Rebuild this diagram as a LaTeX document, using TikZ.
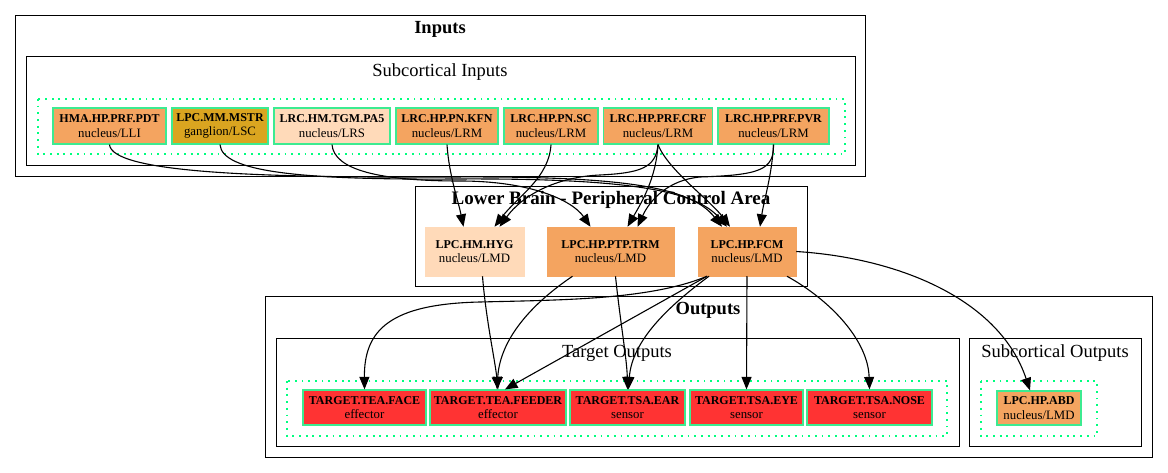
\documentclass[tikz,border=0pt]{standalone}
\usepackage{fontspec}
\setmainfont{Liberation Serif}
\usetikzlibrary{arrows.meta}

\definecolor{sandy}{HTML}{F4A460}
\definecolor{golden}{HTML}{DAA520}
\definecolor{peach}{HTML}{FFDAB9}
\definecolor{targetred}{HTML}{FF3333}
\definecolor{nodeborder}{RGB}{60,235,145}
\definecolor{dotgreen}{HTML}{00FF7F}

\tikzset{
  cluster/.style={draw=black, line width=1pt},
  dotcluster/.style={draw=dotgreen, line width=1.6pt, dash pattern=on 1.8pt off 4.9pt},
  bigtitle/.style={font=\bfseries\fontsize{18.5}{20}\selectfont, inner sep=0pt},
  subtitle/.style={font=\fontsize{18.5}{20}\selectfont, inner sep=0pt},
  nd/.style={draw=nodeborder, line width=1.2pt, fill=#1, inner sep=0pt, align=center,
             font=\fontsize{12.8}{14.6}\selectfont},
  flat/.style={draw=#1, line width=0.5pt, fill=#1, inner sep=0pt, align=center,
             font=\fontsize{12.8}{14.6}\selectfont},
  edge/.style={draw=black, line width=1.1pt, -{Triangle[length=12.5pt,width=10pt]}},
}
\newcommand{\nm}[1]{{\bfseries\fontsize{12}{14.6}\selectfont #1}}

\begin{document}
\begin{tikzpicture}[x=1pt,y=-1pt]
\useasboundingbox (0,0) rectangle (1168,473);

% ---- clusters ----
\draw[cluster] (15,16) rectangle (865,177);
\node[bigtitle] (tin) at (440,29) {Inputs};
\draw[cluster] (26,57) rectangle (855,166);
\node[subtitle] (tsin) at (440,72) {Subcortical Inputs};
\draw[dotcluster] (38,99) rectangle (845,154);

\draw[cluster] (415,187) rectangle (807,287);

\draw[cluster] (265,297) rectangle (1152,457);
\node[bigtitle] (tout) at (708,310) {Outputs};
\draw[cluster] (276,338) rectangle (959,446);
\node[subtitle] (ttgt) at (617,353) {Target Outputs};
\draw[dotcluster] (287,381) rectangle (947,436);
\draw[cluster] (969,338) rectangle (1141,446);
\node[subtitle] (tsout) at (1055,353) {Subcortical Outputs};
\draw[dotcluster] (981,381) rectangle (1097,436);

% ---- input nodes ----
\node[nd=sandy,  minimum width=113pt, minimum height=36pt] (pdt)  at (109.5,126) {\nm{HMA.HP.PRF.PDT}\\nucleus/LLI};
\node[nd=golden, minimum width=96pt,  minimum height=36pt] (mstr) at (220,126)   {\nm{LPC.MM.MSTR}\\ganglion/LSC};
\node[nd=peach,  minimum width=116pt, minimum height=36pt] (pa5)  at (332,126)   {\nm{LRC.HM.TGM.PA5}\\nucleus/LRS};
\node[nd=sandy,  minimum width=102pt, minimum height=36pt] (kfn)  at (447,126)   {\nm{LRC.HP.PN.KFN}\\nucleus/LRM};
\node[nd=sandy,  minimum width=94pt,  minimum height=36pt] (sc)   at (551,126)   {\nm{LRC.HP.PN.SC}\\nucleus/LRM};
\node[nd=sandy,  minimum width=109pt, minimum height=36pt] (crf)  at (658,126)   {\nm{LRC.HP.PRF.CRF}\\nucleus/LRM};
\node[nd=sandy,  minimum width=111pt, minimum height=36pt] (pvr)  at (773.5,126) {\nm{LRC.HP.PRF.PVR}\\nucleus/LRM};

% ---- lower brain nodes ----
\node[flat=peach, minimum width=99pt,  minimum height=49pt] (hyg) at (474.5,251.5) {\nm{LPC.HM.HYG}\\nucleus/LMD};
\node[flat=sandy, minimum width=127pt, minimum height=49pt] (ptp) at (610.5,251.5) {\nm{LPC.HP.PTP.TRM}\\nucleus/LMD};
\node[flat=sandy, minimum width=98pt,  minimum height=49pt] (fcm) at (747,251.5)   {\nm{LPC.HP.FCM}\\nucleus/LMD};

% ---- output nodes ----
\node[nd=targetred, minimum width=123pt, minimum height=35pt] (face)   at (364.5,407.5) {\nm{TARGET.TEA.FACE}\\effector};
\node[nd=targetred, minimum width=136pt, minimum height=35pt] (feeder) at (498,407.5)   {\nm{TARGET.TEA.FEEDER}\\effector};
\node[nd=targetred, minimum width=115pt, minimum height=35pt] (ear)    at (627.5,407.5) {\nm{TARGET.TSA.EAR}\\sensor};
\node[nd=targetred, minimum width=113pt, minimum height=35pt] (eye)    at (746.5,407.5) {\nm{TARGET.TSA.EYE}\\sensor};
\node[nd=targetred, minimum width=125pt, minimum height=35pt] (nose)   at (869.5,407.5) {\nm{TARGET.TSA.NOSE}\\sensor};
\node[nd=sandy,     minimum width=84pt,  minimum height=34pt] (abd)    at (1039,408)    {\nm{LPC.HP.ABD}\\nucleus/LMD};

% ---- lower brain title (edges run over it) ----
\node[bigtitle, font=\bfseries\fontsize{19}{20}\selectfont] (tlb) at (611,200) {Lower Brain - Peripheral Control Area};

% ---- inputs to lower brain ----
\path[edge] (pdt.south) .. controls (112,172) and (250,178) .. (450,177)
            .. controls (620,176) and (690,186) .. ([xshift=-25pt]fcm.north);
\path[edge] (mstr.south) .. controls (222,172) and (300,180) .. (455,179)
            .. controls (625,178) and (695,190) .. ([xshift=-20pt]fcm.north);
\path[edge] (pa5.south) .. controls (334,170) and (380,181) .. (460,181)
            .. controls (530,181) and (572,200) .. ([xshift=-20pt]ptp.north);
\path[edge] (kfn.south) .. controls (449,175) and (458,200) .. ([xshift=-11pt]hyg.north);
\path[edge] (sc.south) .. controls (549,178) and (518,196) .. ([xshift=20pt]hyg.north);
\path[edge] (crf.south) .. controls (656,168) and (640,173) .. (600,175)
            .. controls (555,177) and (522,196) .. ([xshift=25pt]hyg.north);
\path[edge] (crf.south) .. controls (656,180) and (640,205) .. ([xshift=17pt]ptp.north);
\path[edge] (crf.south) .. controls (668,170) and (710,200) .. ([xshift=-17pt]fcm.north);
\path[edge] (pvr.south) .. controls (774,170) and (760,175) .. (700,177)
            .. controls (668,180) and (650,200) .. ([xshift=27pt]ptp.north);
\path[edge] (pvr.south) .. controls (772,175) and (764,200) .. ([xshift=13pt]fcm.north);

% ---- lower brain to outputs ----
\path[edge] ([xshift=8pt]hyg.south) .. controls (486,320) and (495,360) .. (feeder.north);
\path[edge] ([xshift=-38pt]ptp.south) .. controls (530,305) and (500,340) .. ([xshift=-1pt]feeder.north);
\path[edge] ([xshift=5pt]ptp.south) .. controls (620,320) and (627,360) .. (ear.north);
\path[edge] ([xshift=-40pt]fcm.south) .. controls (650,300) and (560,300) .. (480,302)
            .. controls (390,304) and (364,330) .. (face.north);
\path[edge] ([xshift=-40pt]fcm.south) -- ([xshift=7pt]feeder.north);
\path[edge] ([xshift=-38pt]fcm.south) .. controls (670,305) and (632,340) .. ([xshift=1pt]ear.north);
\path[edge] (fcm.south) -- (eye.north);
\path[edge] ([xshift=40pt]fcm.south) .. controls (830,300) and (868,340) .. (nose.north);
\path[edge] (fcm.east) .. controls (900,258) and (1000,300) .. ([xshift=-9pt]abd.north);
\end{tikzpicture}
\end{document}
